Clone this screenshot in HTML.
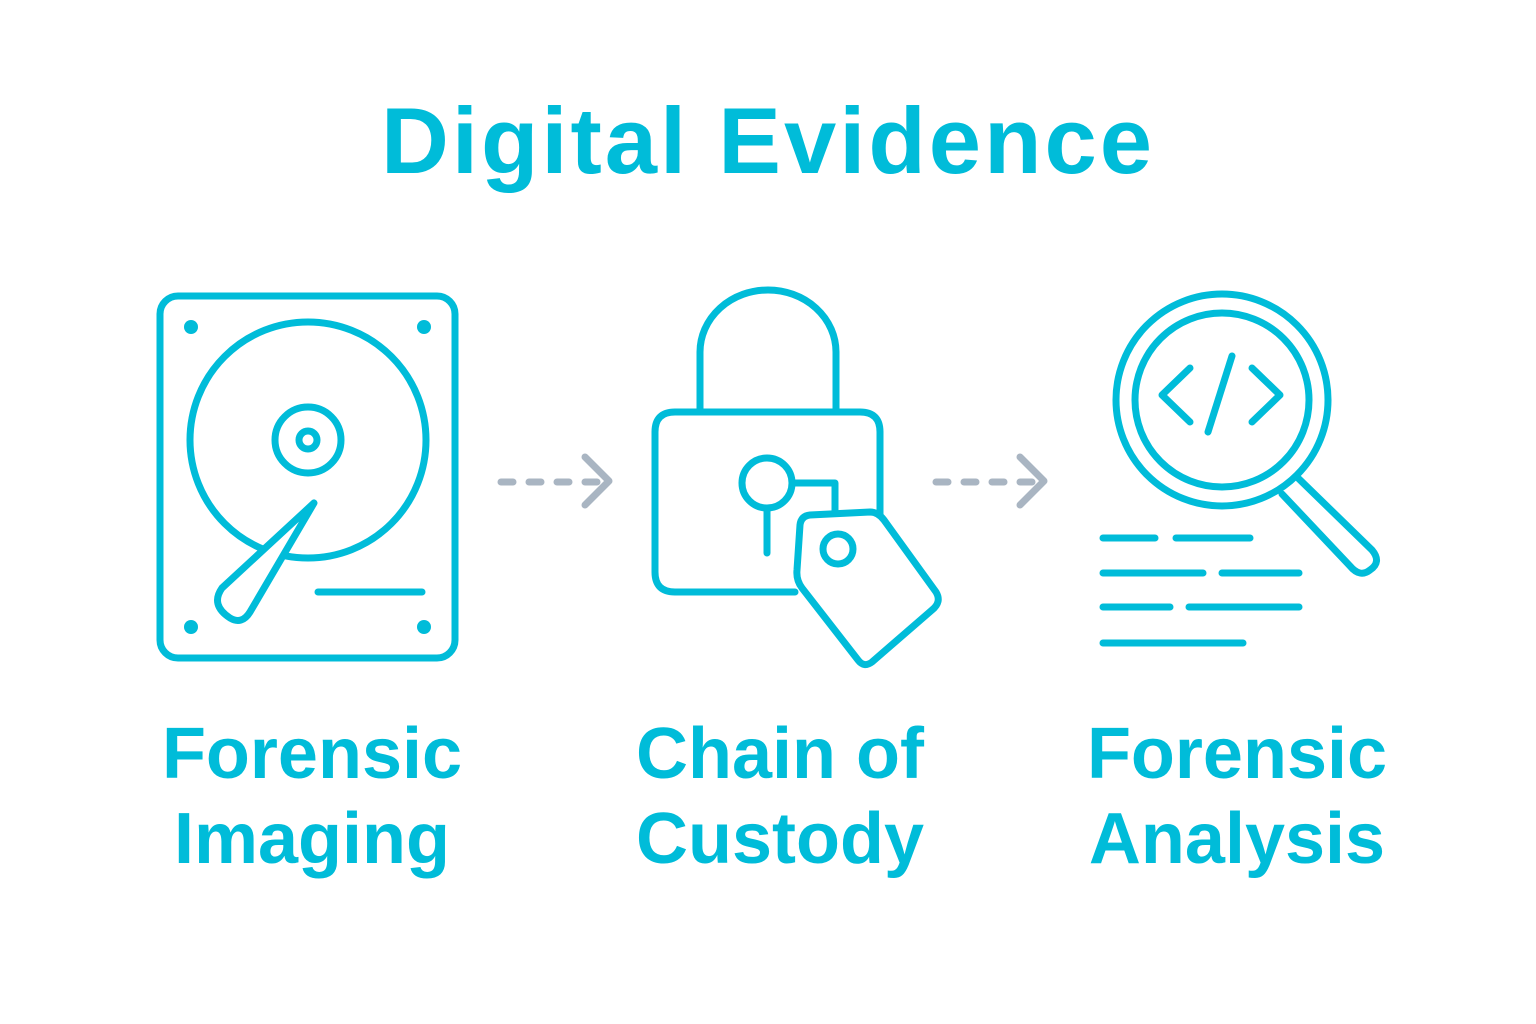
<!DOCTYPE html>
<html><head><meta charset="utf-8"><style>
html,body{margin:0;padding:0;background:#fff;}
svg{display:block;}
text{font-family:"Liberation Sans",sans-serif;fill:#00BCD9;text-anchor:middle;}
</style></head><body>
<svg width="1536" height="1024" viewBox="0 0 1536 1024" xmlns="http://www.w3.org/2000/svg">
<rect width="1536" height="1024" fill="#fff"/>
<text x="768" y="173" font-size="94" font-weight="bold" letter-spacing="3">Digital Evidence</text>
<g fill="none" stroke="#00BCD9" stroke-width="7" stroke-linecap="round" stroke-linejoin="round">
 <!-- hard drive -->
 <rect x="160" y="296" width="295" height="362" rx="18"/>
 <circle cx="308" cy="440" r="118"/>
 <circle cx="308" cy="440" r="33"/>
 <circle cx="308" cy="440" r="9"/>
 <path d="M314,503 L222,588 Q210,605 230,618 Q242,625 250,612 Z" fill="#fff"/>
 <line x1="318" y1="592" x2="422" y2="592"/>
 <!-- lock -->
 <path d="M700,410 V352 A68,62 0 0 1 836,352 V410"/>
 <path d="M795,592 H675 Q655,592 655,572 V432 Q655,412 675,412 H860 Q880,412 880,432 V515"/>
 <circle cx="767" cy="483" r="25"/>
 <line x1="767" y1="508" x2="767" y2="553"/>
 <path d="M792,483 H835 V512"/>
 <path d="M810,515 L870,512 Q878,512 884,520 L936,592 Q942,602 932,610 L872,662 Q864,668 858,660 L802,588 Q796,580 797,570 L800,525 Q801,516 810,515 Z"/>
 <circle cx="838" cy="549" r="15"/>
 <!-- magnifier -->
 <circle cx="1222" cy="400" r="106"/>
 <circle cx="1222" cy="400" r="87"/>
 <path d="M1298,478 L1372,550 Q1382,562 1370,570 Q1360,578 1350,566 L1282,494"/>
 <path d="M1190,368 L1162,395 L1190,422"/>
 <path d="M1252,368 L1280,395 L1252,422"/>
 <line x1="1232" y1="356" x2="1208" y2="432"/>
 <line x1="1103" y1="538" x2="1155" y2="538"/>
 <line x1="1176" y1="538" x2="1250" y2="538"/>
 <line x1="1103" y1="573" x2="1203" y2="573"/>
 <line x1="1222" y1="573" x2="1299" y2="573"/>
 <line x1="1103" y1="607" x2="1170" y2="607"/>
 <line x1="1189" y1="607" x2="1299" y2="607"/>
 <line x1="1103" y1="643" x2="1243" y2="643"/>
</g>
<g fill="#00BCD9">
 <circle cx="191" cy="327" r="7"/><circle cx="424" cy="327" r="7"/>
 <circle cx="191" cy="627" r="7"/><circle cx="424" cy="627" r="7"/>
</g>
<g fill="none" stroke="#A9B5C2" stroke-width="7" stroke-linecap="round" stroke-linejoin="round">
 <path d="M501,482 H605" stroke-dasharray="12,16"/>
 <path d="M585,457 L609,481 L585,505"/>
 <path d="M936,482 H1040" stroke-dasharray="12,16"/>
 <path d="M1020,457 L1044,481 L1020,505"/>
</g>
<g font-size="72" font-weight="bold">
 <text x="312" y="778">Forensic</text>
 <text x="312" y="863">Imaging</text>
 <text x="780" y="778">Chain of</text>
 <text x="780" y="863">Custody</text>
 <text x="1237" y="778">Forensic</text>
 <text x="1237" y="863">Analysis</text>
</g>
</svg>
</body></html>
